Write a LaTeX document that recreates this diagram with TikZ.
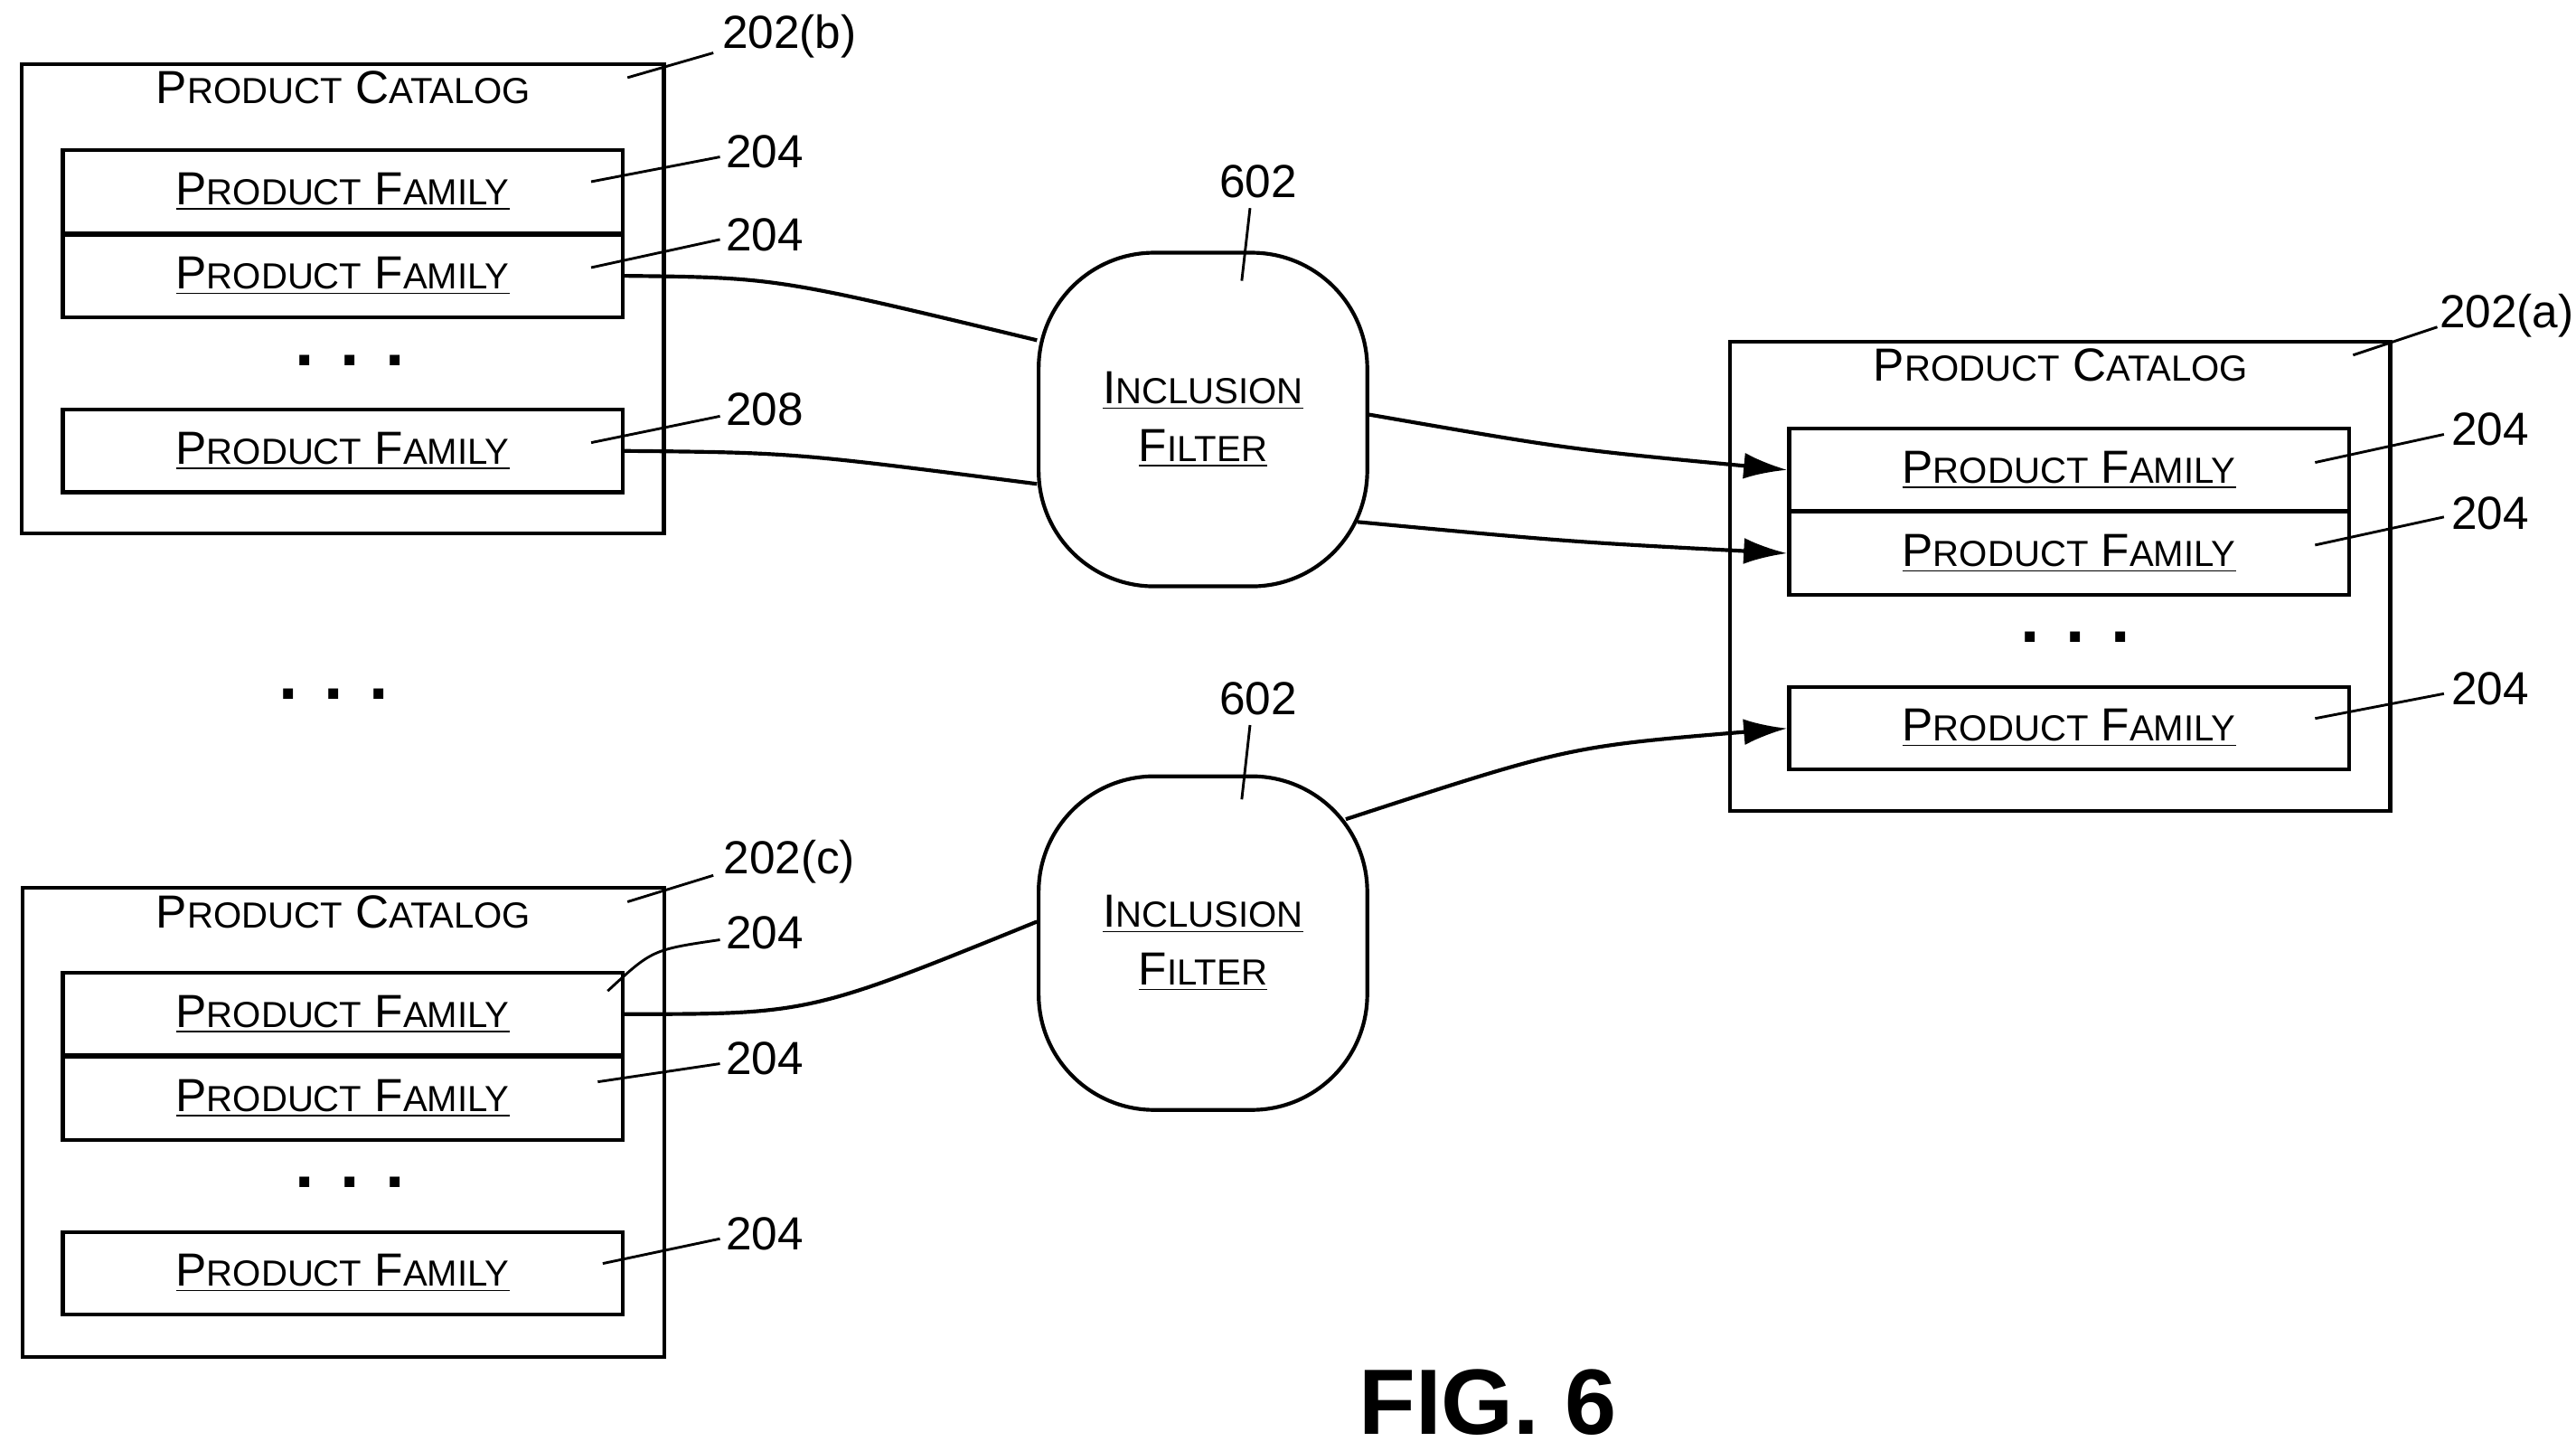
\documentclass[tikz,border=0pt]{standalone}
\usepackage{fontspec}
\setmainfont{Liberation Sans}
\usetikzlibrary{arrows.meta}
\newcommand{\sml}{\fontsize{12.5}{14}\selectfont}
\newcommand{\pfam}{\underline{P{\sml RODUCT} F{\sml AMILY}}}
\newcommand{\pcat}{P{\sml RODUCT} C{\sml ATALOG}}
\newcommand{\incl}{\underline{I{\sml NCLUSION}}\\[2pt]\underline{F{\sml ILTER}}}
\begin{document}
\begin{tikzpicture}[x=0.02cm,y=-0.02cm,line width=1.3pt,
        catalog/.style={draw,rectangle,inner sep=0pt,minimum width=389*0.02cm,minimum height=284*0.02cm},
        family/.style={draw,rectangle,inner sep=0pt,minimum width=339*0.02cm,minimum height=50*0.02cm,font=\fontsize{16}{18}\selectfont},
        filter/.style={draw,rectangle,rounded corners=1.4cm,inner sep=0pt,minimum width=199*0.02cm,minimum height=202*0.02cm,align=center,font=\fontsize{16}{18}\selectfont},
        title/.style={font=\fontsize{16}{18}\selectfont},
        num/.style={font=\fontsize{16}{18}\selectfont},
        dots/.style={font=\fontsize{24}{24}\selectfont\bfseries},
        leader/.style={line width=0.9pt},
        flow/.style={line width=1.3pt},
        arr/.style={flow,-{Latex[length=15pt,width=9pt]}}]
    \useasboundingbox (0,0) rectangle (1560,878.5);
    % Catalog b
    \node[catalog] (catb) at (207.5,181) {};
    \node[title] (catbt) at (208,53) {\pcat};
    \node[family] (b1) at (207.5,116) {\pfam};
    \node[family] (b2) at (207.5,167) {\pfam};
    \node[dots] (bd) at (212,218) {. . .};
    \node[family] (b3) at (207.5,273) {\pfam};
    \node[num] (lb) at (478,22) {202(b)};
    \node[num] (lb1) at (463,92) {204};
    \node[num] (lb2) at (463,142) {204};
    \node[num] (lb3) at (463,248) {208};
    \draw[leader] (380,47) -- (432,32);
    \draw[leader] (358,110) -- (436,95);
    \draw[leader] (358,162) -- (436,145);
    \draw[leader] (358,268) -- (436,252);
    \node[dots] (md) at (202,420) {. . .};
    % Catalog c
    \node[catalog] (catc) at (208,679.5) {};
    \node[title] (catct) at (208,552) {\pcat};
    \node[family] (c1) at (207.5,614) {\pfam};
    \node[family] (c2) at (207.5,665) {\pfam};
    \node[dots] (cd) at (212,716) {. . .};
    \node[family] (c3) at (207.5,771) {\pfam};
    \node[num] (lc) at (478,522) {202(c)};
    \node[num] (lc1) at (463,565) {204};
    \node[num] (lc2) at (463,641) {204};
    \node[num] (lc3) at (463,747) {204};
    \draw[leader] (380,546) -- (432,530);
    \draw[leader] (368,600) .. controls (395,575) .. (436,569);
    \draw[leader] (362,655) -- (436,644);
    \draw[leader] (365,765) -- (436,750);
    % Catalog a
    \node[catalog,minimum width=400*0.02cm] (cata) at (1247.5,349) {};
    \node[title] (catat) at (1248,221) {\pcat};
    \node[family] (a1) at (1253,284.5) {\pfam};
    \node[family] (a2) at (1253,335) {\pfam};
    \node[dots] (ad) at (1257,386) {. . .};
    \node[family] (a3) at (1253,441) {\pfam};
    \node[num] (la) at (1518,191) {202(a)};
    \node[num] (la1) at (1508,260) {204};
    \node[num] (la2) at (1508,311) {204};
    \node[num] (la3) at (1508,417) {204};
    \draw[leader] (1425,215) -- (1476,198);
    \draw[leader] (1402,280) -- (1480,263);
    \draw[leader] (1402,330) -- (1480,313);
    \draw[leader] (1402,435) -- (1480,420);
    % Filters
    \node[filter] (f1) at (728.5,254) {\incl};
    \node[filter] (f2) at (728.5,571) {\incl};
    \node[num] (lf1) at (762,110) {602};
    \node[num] (lf2) at (762,423) {602};
    \draw[leader] (752,170) -- (757,126);
    \draw[leader] (752,484) -- (757,439);
    % Connectors
    \coordinate (f1w1) at (628,206);
    \coordinate (f1w2) at (628,293);
    \coordinate (f1e1) at (829,251);
    \coordinate (f1e2) at (822,316);
    \coordinate (f2e) at (815,496);
    \coordinate (f2w) at (628,558);
    \draw[flow] (b2.east) .. controls (470,168) .. (f1w1);
    \draw[flow] (b3.east) .. controls (480,274) .. (f1w2);
    \draw[arr] (f1e1) .. controls (950,272) .. (a1.west);
    \draw[arr] (f1e2) .. controls (950,328) .. (a2.west);
    \draw[arr] (f2e) .. controls (950,452) .. (a3.west);
    \draw[flow] (c1.east) .. controls (490,614) .. (f2w);
    \node[font=\fontsize{32}{34}\selectfont\bfseries] (fig) at (901,849) {FIG. 6};
\end{tikzpicture}
\end{document}
